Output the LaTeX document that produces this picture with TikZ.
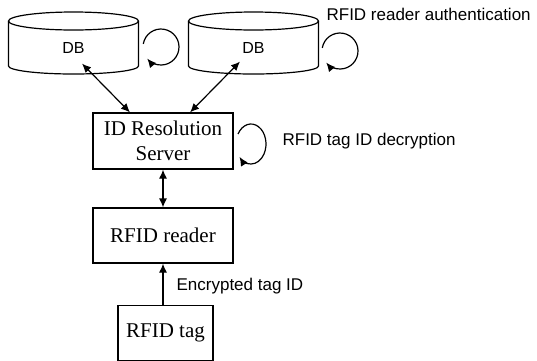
\documentclass[tikz,border=0pt]{standalone}
\usepackage{fontspec}
\setmainfont{Liberation Serif}
\setsansfont{Liberation Sans}
\usetikzlibrary{arrows.meta,calc}
\begin{document}
\begin{tikzpicture}[x=1pt,y=-1pt, line width=1.2pt,
  box/.style={draw, rectangle, inner sep=0pt, font=\fontsize{21}{25}\selectfont, align=center},
  dbnode/.style={inner sep=0pt, minimum width=130pt, minimum height=45pt, font=\sffamily\fontsize{16}{19}\selectfont},
  lbl/.style={font=\sffamily\fontsize{17}{20}\selectfont, inner sep=0pt, anchor=base west},
  tip/.style={-{Latex[length=9pt,width=8pt]}},
  dtip/.style={{Latex[length=9pt,width=8pt]}-{Latex[length=9pt,width=8pt]}},
]
\useasboundingbox (0,0) rectangle (537,360);

% databases
\node[dbnode] (dbL) at (73.5,47.5) {DB};
\node[dbnode] (dbR) at (253.5,47.5) {DB};
\foreach \n in {dbL,dbR}{
  \draw ($(\n.center)+(0,-26.5)$) ellipse [x radius=65pt, y radius=9pt];
  \draw ($(\n.center)+(-65,-26.5)$) -- ($(\n.center)+(-65,18.5)$)
        arc[start angle=180, end angle=360, x radius=65pt, y radius=8pt]
        -- ($(\n.center)+(65,-26.5)$);
}

% boxes
\node[box, minimum width=140pt, minimum height=56pt] (srv) at (163,141) {ID Resolution\\Server};
\node[box, minimum width=140pt, minimum height=55pt] (rdr) at (163,235.5) {RFID reader};
\node[box, minimum width=95pt, minimum height=55pt] (tag) at (165.5,333) {RFID tag};

% connectors
\draw[dtip] ([xshift=8.5pt,yshift=-1pt]dbL.south) ++(0,-8) -- ([xshift=-33pt]srv.north);
\draw[dtip] ([xshift=-13.5pt]dbR.south) ++(0,-9) -- ([xshift=27pt]srv.north);
\draw[dtip] (srv.south) -- (rdr.north);
\draw[tip] (rdr.south |- tag.north) -- (rdr.south);

% self loops
\coordinate (lpL) at (161,47);
\coordinate (lpR) at (340,51);
\coordinate (lpS) at (251,144);
\draw[tip] (lpL) ++(170:18pt) arc[start angle=170, end angle=-140, radius=18pt];
\draw[tip] (lpR) ++(170:18pt) arc[start angle=170, end angle=-140, radius=18pt];
\draw[tip] (lpS) ++(15pt*cos 150, 20pt*sin 150) arc[start angle=150, end angle=-140, x radius=15pt, y radius=20pt];

% labels
\node[lbl] (authL) at (326,20) {RFID reader authentication};
\node[lbl] (decL) at (282,145) {RFID tag ID decryption};
\node[lbl] (encL) at (176,290) {Encrypted tag ID};
\end{tikzpicture}
\end{document}
